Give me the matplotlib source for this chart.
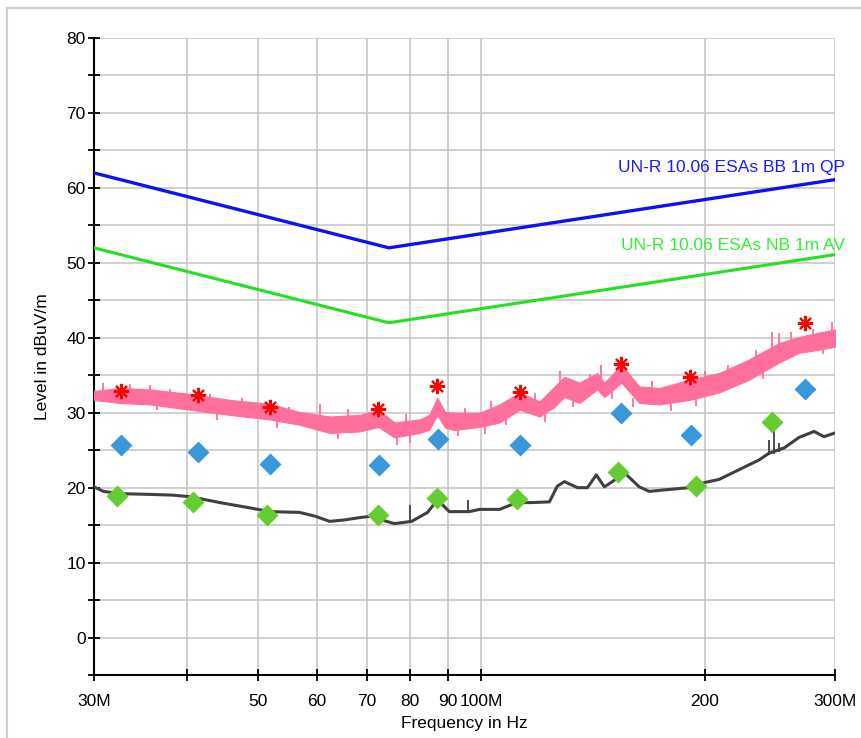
import numpy as np
import matplotlib
matplotlib.use("Agg")
import matplotlib.pyplot as plt
from matplotlib.ticker import FixedLocator, NullFormatter
from matplotlib.lines import Line2D

plt.rcParams['font.family'] = ['Liberation Sans', 'DejaVu Sans']

# ---- limit lines (MHz, dBuV/m)
lim_f = [30, 75, 300]
lim_bb_qp = [62.0, 52.0, 61.1]
lim_nb_av = [52.0, 42.0, 51.1]

# ---- peak trace (pink band): upper / lower envelope
pk_f = [30.0, 32.5, 35.7, 40.4, 45.8, 51.8, 56.8, 62.4, 68.5, 72.6, 76.3, 82.5, 85.0,
        87.2, 89.3, 91.9, 99.4, 105.8, 112.6, 119.8, 125.5, 129.4, 135.6, 143.3, 146.5,
        154.5, 163.3, 173.8, 190.7, 209.3, 229.7, 252.2, 268.3, 285.5, 300.0]
pk_hi = [32.9, 33.3, 33.1, 32.5, 31.7, 31.2, 30.1, 29.5, 29.7, 30.4, 28.7, 29.1, 29.7,
         32.0, 30.1, 30.0, 30.0, 31.1, 32.7, 31.5, 33.5, 34.8, 34.0, 35.3, 34.0,
         36.4, 33.5, 33.3, 34.4, 35.3, 37.1, 39.3, 40.1, 40.7, 41.1]
pk_lo = [31.7, 31.3, 31.1, 30.4, 29.7, 29.1, 28.4, 27.3, 27.5, 28.1, 26.7, 27.3, 27.7,
         29.7, 28.0, 27.7, 28.1, 28.7, 30.4, 29.5, 30.8, 32.1, 31.3, 33.1, 32.1,
         34.0, 31.3, 31.1, 31.7, 32.7, 34.4, 36.7, 38.0, 38.4, 38.8]
pk_spike_f = [30.85, 33.5, 35.7, 38.0, 43.0, 47.5, 55.0, 60.5, 66.0, 79.0, 95.0, 103.0,
              118.0, 127.8, 139.9, 145.2, 170.0, 200.0, 215.0, 234.8, 246.7, 252.2,
              262.0, 280.0, 297.2]
pk_spike_lo = [32.0, 32.0, 31.5, 31.0, 30.5, 30.0, 29.0, 29.1, 28.5, 27.5, 28.5, 29.0,
               30.0, 32.4, 32.8, 33.7, 32.0, 33.0, 33.5, 35.7, 37.7, 38.1,
               38.5, 39.0, 39.7]
pk_spike_hi = [34.0, 33.8, 33.7, 33.2, 32.5, 32.0, 30.8, 31.1, 30.5, 29.8, 30.6, 31.5,
               32.6, 35.5, 35.1, 36.4, 34.2, 35.5, 36.3, 38.4, 40.8, 40.6,
               40.8, 41.2, 42.1]
pk_dip_f = [36.5, 44.0, 53.0, 64.0, 77.0, 80.0, 93.0, 101.0, 108.0, 122.0, 133.0,
            150.0, 160.0, 180.0, 195.0, 240.0, 289.0]
pk_dip_hi = [31.3, 30.2, 29.3, 27.6, 27.0, 27.2, 28.0, 28.3, 29.5, 30.0, 31.8,
             33.0, 32.0, 31.3, 32.0, 35.8, 39.0]
pk_dip_lo = [30.3, 29.0, 28.0, 26.5, 25.7, 26.0, 26.9, 27.2, 28.3, 28.8, 30.7,
             31.8, 30.8, 30.2, 30.9, 34.5, 37.8]

# ---- average trace (dark gray)
av_f = [30.0, 30.9, 32.5, 35.7, 38.3, 40.4, 44.4, 48.7, 51.8, 56.8, 59.6, 62.4, 65.4,
        68.5, 72.4, 73.9, 76.3, 80.5, 84.6, 87.2, 90.5, 96.3, 99.4, 105.8, 111.5,
        116.1, 123.5, 126.6, 129.4, 134.8, 139.0, 142.9, 146.5, 150.2, 155.9, 163.3,
        168.5, 176.5, 190.7, 200.4, 209.3, 222.7, 237.0, 244.4, 256.1, 268.3, 281.1,
        289.9, 300.0]
av_val = [20.1, 19.5, 19.2, 19.1, 19.0, 18.8, 18.0, 17.3, 16.8, 16.7, 16.2, 15.5, 15.7,
          16.0, 16.3, 15.6, 15.2, 15.5, 16.7, 18.4, 16.8, 16.8, 17.1, 17.1, 18.0,
          18.0, 18.1, 20.2, 20.8, 20.0, 20.0, 21.7, 20.1, 20.8, 22.0, 20.1,
          19.5, 19.7, 20.0, 20.7, 21.1, 22.4, 23.7, 24.6, 25.3, 26.7, 27.5,
          26.8, 27.3]
av_spike_f = [80.0, 96.0, 244.4, 248.3, 252.2]
av_spike_lo = [15.5, 16.8, 24.4, 24.5, 24.8]
av_spike_hi = [17.7, 18.4, 26.4, 28.0, 26.0]

# ---- final measurement markers
star_f = [32.6, 41.5, 51.8, 72.6, 87.2, 112.7, 154.5, 191.0, 273.3]
star_v = [32.9, 32.3, 30.7, 30.5, 33.5, 32.7, 36.5, 34.8, 42.0]
qp_f = [32.6, 41.5, 51.8, 72.8, 87.3, 112.7, 154.5, 191.7, 273.6]
qp_v = [25.7, 24.7, 23.2, 23.0, 26.5, 25.7, 29.9, 27.0, 33.2]
av_mk_f = [32.2, 40.8, 51.3, 72.4, 87.2, 111.6, 153.0, 194.8, 247.0]
av_mk_v = [18.9, 18.1, 16.4, 16.4, 18.6, 18.5, 22.1, 20.2, 28.8]

x_ticks = [30, 40, 50, 60, 70, 80, 90, 100, 200, 300]
x_labels = ['30M', '', '50', '60', '70', '80', '90', '100M', '200', '300M']
y_major = [0, 10, 20, 30, 40, 50, 60, 70, 80]
y_minor = [-5, 5, 15, 25, 35, 45, 55, 65, 75]

M = 1e6
PINK = '#ff6f9c'
GRAY = '#404040'
fig = plt.figure(figsize=(8.62, 7.38), dpi=100)
ax = fig.add_axes([94/862, 1-675/738, (835-94)/862, (675-38)/738])

ax.set_xscale('log')
ax.set_xlim(30*M, 300*M)
ax.set_ylim(-5, 80)

f = lambda a: np.array(a) * M

ax.plot(f(lim_f), lim_bb_qp, color='#1010f0', lw=2.4, zorder=4)
ax.plot(f(lim_f), lim_nb_av, color='#22e022', lw=2.2, zorder=4)

ax.fill_between(f(pk_f), pk_lo, pk_hi, color=PINK, lw=0.8, zorder=3)
ax.vlines(f(pk_spike_f), pk_spike_lo, pk_spike_hi, color=PINK, lw=1.3, zorder=3)
ax.vlines(f(pk_dip_f), pk_dip_lo, pk_dip_hi, color=PINK, lw=1.3, zorder=3)

ax.plot(f(av_f), av_val, color=GRAY, lw=2.2, zorder=3)
ax.vlines(f(av_spike_f), av_spike_lo, av_spike_hi, color=GRAY, lw=1.3, zorder=3)

ax.plot(f(qp_f), qp_v, ls='none', marker='D', ms=11, color='#3b97dc', mec='none', zorder=5)
ax.plot(f(av_mk_f), av_mk_v, ls='none', marker='D', ms=11, color='#66cc33', mec='none', zorder=5)
ax.plot(f(star_f), star_v, ls='none', marker=(8, 2, 0), ms=11, mew=1.5, color='#ff0000', zorder=6)

ax.text(1.0135, 62.7, 'UN-R 10.06 ESAs BB 1m QP', transform=ax.get_yaxis_transform(),
        ha='right', va='center', fontsize=12.5, color='#1a1aff', clip_on=False)
ax.text(1.0135, 52.3, 'UN-R 10.06 ESAs NB 1m AV', transform=ax.get_yaxis_transform(),
        ha='right', va='center', fontsize=12.5, color='#33ee33', clip_on=False)

ax.xaxis.set_major_locator(FixedLocator(f(x_ticks)))
ax.set_xticklabels(x_labels)
ax.xaxis.set_minor_locator(FixedLocator([]))
ax.xaxis.set_minor_formatter(NullFormatter())
ax.yaxis.set_major_locator(FixedLocator(y_major))
ax.yaxis.set_minor_locator(FixedLocator(y_minor))

ax.grid(True, which='both', color='#c8c8c8', lw=1.2, zorder=0)
ax.set_axisbelow(True)
for s in ['top', 'right']:
    ax.spines[s].set_visible(False)
for s in ['left', 'bottom']:
    ax.spines[s].set_linewidth(1.5)
    ax.spines[s].set_color('black')
ax.tick_params(axis='both', which='both', direction='inout', length=8, width=1.3,
               labelsize=12.5, colors='black')
ax.tick_params(axis='x', pad=10)
ax.tick_params(axis='y', pad=2)

ax.set_xlabel('Frequency in Hz', fontsize=12.5, labelpad=5)
ax.set_ylabel('Level in dBuV/m', fontsize=12.5, labelpad=12)

fig.add_artist(Line2D([7/862, 7/862], [0, 1-8/738], transform=fig.transFigure,
                      color='#d0d0d0', lw=1.5))
fig.add_artist(Line2D([7/862, 1], [1-8/738, 1-8/738], transform=fig.transFigure,
                      color='#d0d0d0', lw=1.5))

fig.savefig('out.png', dpi=100)
